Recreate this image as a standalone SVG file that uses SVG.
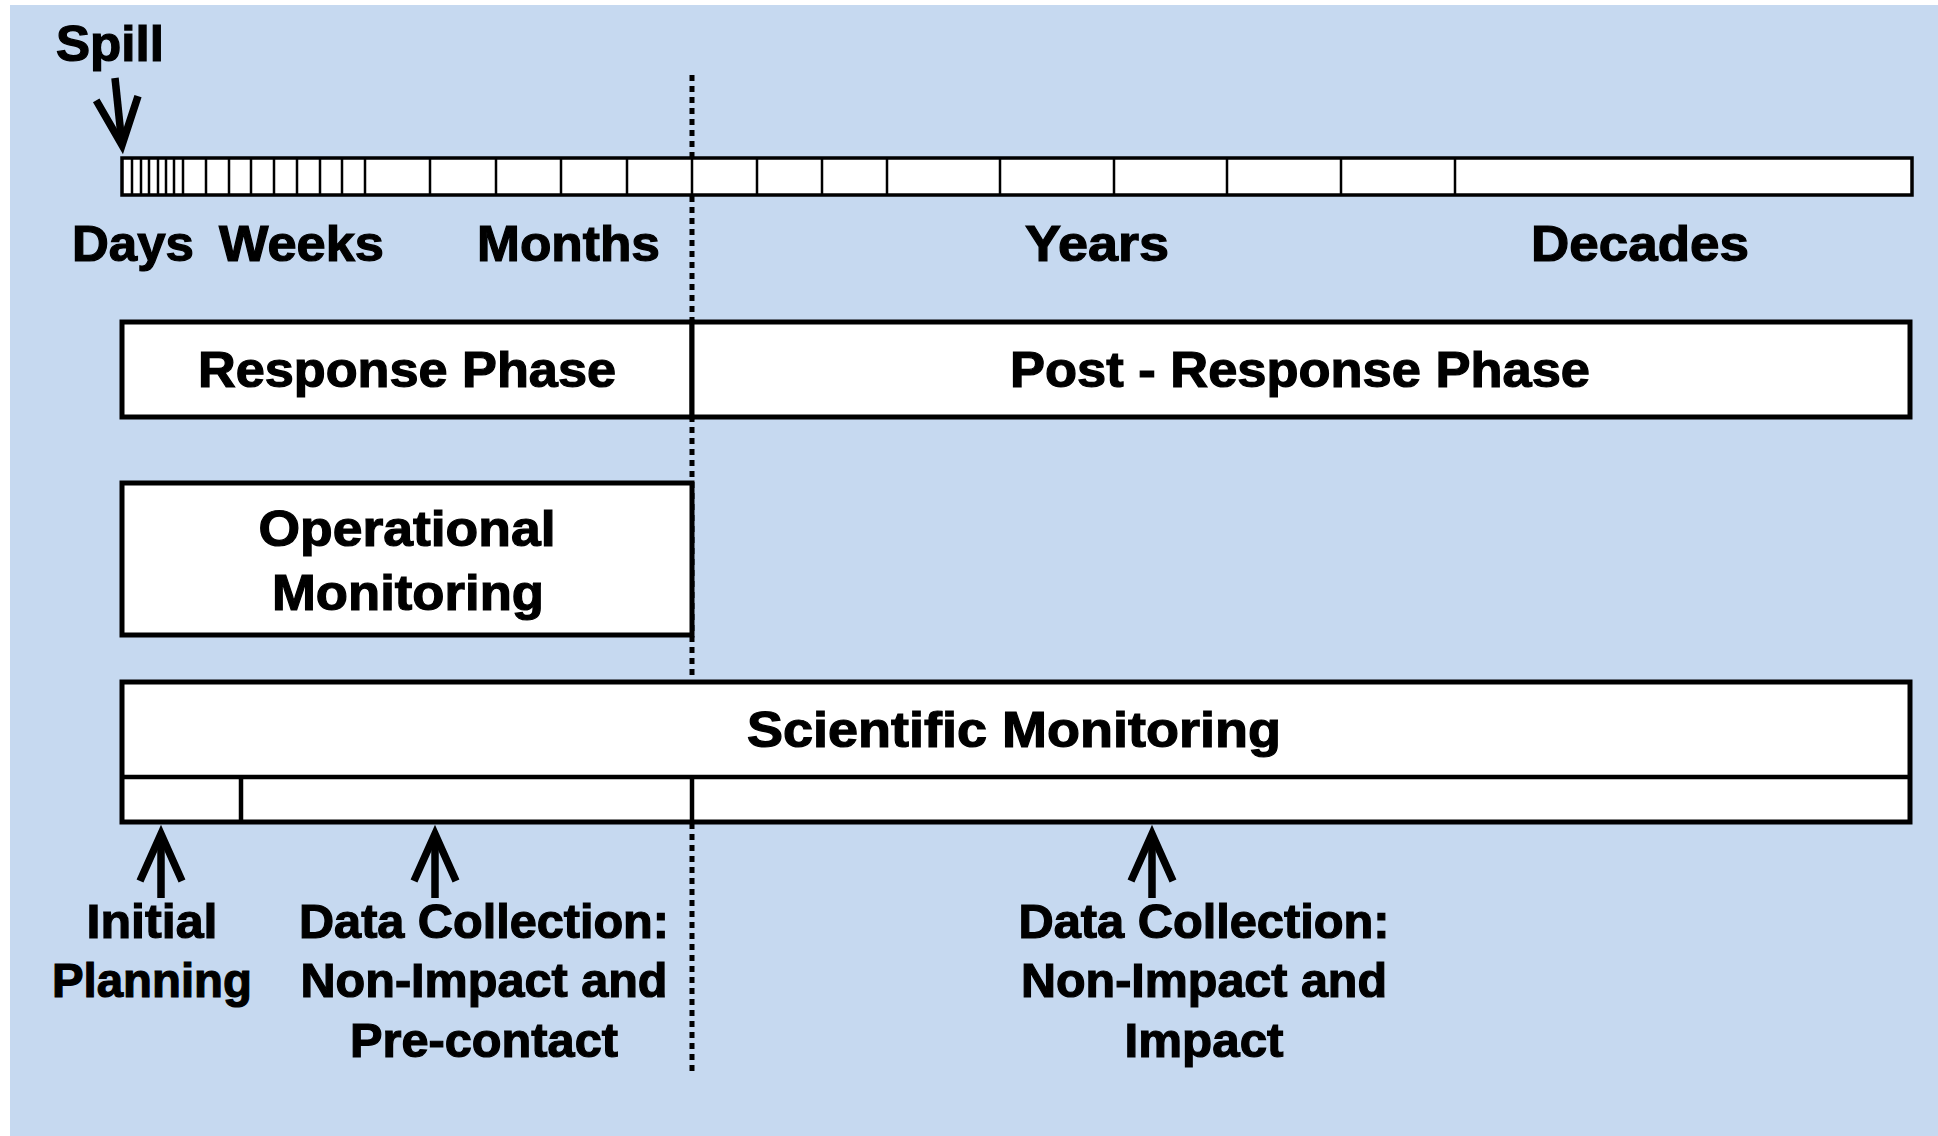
<svg xmlns="http://www.w3.org/2000/svg" width="1938" height="1136" viewBox="0 0 1938 1136">
  <defs>
    <style>
      .bg { fill: #c6d9f0; }
      .box { fill: #ffffff; stroke: #000000; stroke-width: 5; }
      .bar { fill: #ffffff; stroke: #000000; stroke-width: 3.5; }
      .tick { stroke: #000000; stroke-width: 2.5; fill: none; }
      .div { stroke: #000000; stroke-width: 4.5; fill: none; }
      .dots { stroke: #000000; stroke-width: 5; stroke-dasharray: 6 5; fill: none; }
      .arrow { stroke: #000000; stroke-width: 7.5; fill: none; marker-end: url(#vhead); }
      text { font-family: "Liberation Sans", Arial, sans-serif; font-weight: bold; fill: #000000; stroke: #000000; stroke-width: 1.2; }
      .t52 { font-size: 50px; }
      .t48 { font-size: 48px; }
      .mid { text-anchor: middle; }
    </style>
    <marker id="vhead" markerUnits="userSpaceOnUse" viewBox="-55 -28 68 56" markerWidth="68" markerHeight="56" refX="0" refY="0" orient="auto">
      <path d="M -47 -21 L 0 0 L -47 21" fill="none" stroke="#000000" stroke-width="7.5" stroke-linejoin="miter"/>
    </marker>
  </defs>

  <rect class="bg" x="10" y="5" width="1928" height="1131"/>

  <g id="connectors">
    <line class="dots" x1="692" y1="75" x2="692" y2="1075"/>
    <path class="arrow" d="M 115 78 L 122 145"/>
    <path class="arrow" d="M 161 898 L 161 834"/>
    <path class="arrow" d="M 435 898 L 435 834"/>
    <path class="arrow" d="M 1152 898 L 1152 834"/>
  </g>

  <g id="spill">
    <text class="t52" x="56" y="61" textLength="108" lengthAdjust="spacingAndGlyphs">Spill</text>
  </g>

  <g id="timeline">
    <rect class="bar" x="122" y="158" width="1790" height="37"/>
    <path class="tick" d="M132 158V195M141 158V195M149 158V195M158 158V195M166 158V195M174 158V195M183 158V195
      M206 158V195M229 158V195M251 158V195M274 158V195M297 158V195M320 158V195M342 158V195M365 158V195
      M430 158V195M496 158V195M561 158V195M627 158V195M692 158V195M757 158V195M822 158V195M887 158V195
      M1000 158V195M1114 158V195M1227 158V195M1341 158V195M1455 158V195"/>
    <text class="t52" x="72" y="261" textLength="122" lengthAdjust="spacingAndGlyphs">Days</text>
    <text class="t52" x="219" y="261" textLength="165" lengthAdjust="spacingAndGlyphs">Weeks</text>
    <text class="t52" x="477" y="261" textLength="183" lengthAdjust="spacingAndGlyphs">Months</text>
    <text class="t52" x="1025" y="261" textLength="144" lengthAdjust="spacingAndGlyphs">Years</text>
    <text class="t52" x="1531" y="261" textLength="218" lengthAdjust="spacingAndGlyphs">Decades</text>
  </g>

  <g id="response-phase">
    <rect class="box" x="122" y="322" width="570" height="95"/>
    <text class="t52 mid" x="407" y="387" textLength="418" lengthAdjust="spacingAndGlyphs">Response Phase</text>
  </g>

  <g id="post-response-phase">
    <rect class="box" x="692" y="322" width="1218" height="95"/>
    <text class="t52 mid" x="1300" y="387" textLength="580" lengthAdjust="spacingAndGlyphs">Post - Response Phase</text>
  </g>

  <g id="operational-monitoring">
    <rect class="box" x="122" y="483" width="570" height="152"/>
    <text class="t52 mid" x="407" y="546" textLength="297" lengthAdjust="spacingAndGlyphs">Operational</text>
    <text class="t52 mid" x="408" y="610" textLength="272" lengthAdjust="spacingAndGlyphs">Monitoring</text>
  </g>

  <g id="scientific-monitoring">
    <rect class="box" x="122" y="682" width="1788" height="140"/>
    <line class="div" x1="122" y1="777" x2="1910" y2="777"/>
    <line class="div" x1="241" y1="777" x2="241" y2="822"/>
    <line class="div" x1="692" y1="777" x2="692" y2="822"/>
    <text class="t52 mid" x="1014" y="747" textLength="534" lengthAdjust="spacingAndGlyphs">Scientific Monitoring</text>
  </g>

  <g id="initial-planning">
    <text class="t48 mid" x="152" y="938" textLength="131" lengthAdjust="spacingAndGlyphs">Initial</text>
    <text class="t48 mid" x="152" y="997" textLength="200" lengthAdjust="spacingAndGlyphs">Planning</text>
  </g>

  <g id="data-collection-pre">
    <text class="t48 mid" x="484" y="938" textLength="370" lengthAdjust="spacingAndGlyphs">Data Collection:</text>
    <text class="t48 mid" x="484" y="997" textLength="367" lengthAdjust="spacingAndGlyphs">Non-Impact and</text>
    <text class="t48 mid" x="484" y="1057" textLength="268" lengthAdjust="spacingAndGlyphs">Pre-contact</text>
  </g>

  <g id="data-collection-impact">
    <text class="t48 mid" x="1204" y="938" textLength="371" lengthAdjust="spacingAndGlyphs">Data Collection:</text>
    <text class="t48 mid" x="1204" y="997" textLength="366" lengthAdjust="spacingAndGlyphs">Non-Impact and</text>
    <text class="t48 mid" x="1204" y="1057" textLength="159" lengthAdjust="spacingAndGlyphs">Impact</text>
  </g>
</svg>
